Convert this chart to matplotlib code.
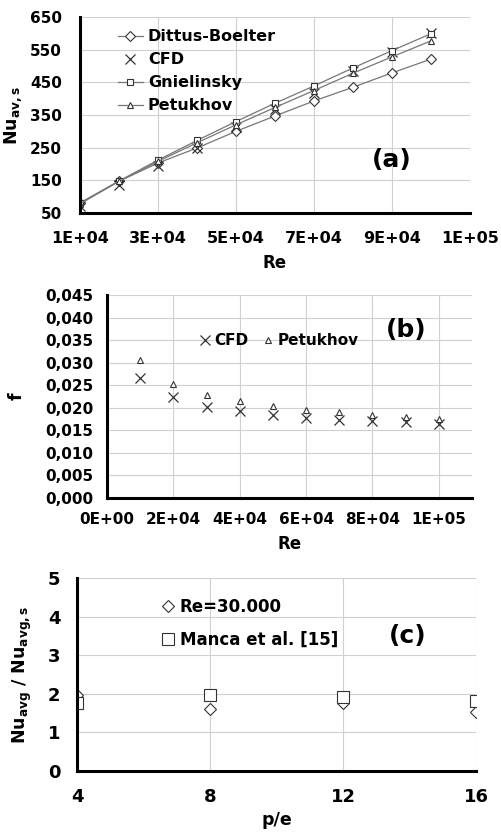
import matplotlib
matplotlib.use("Agg")
import matplotlib.pyplot as plt
from matplotlib.ticker import FuncFormatter, MultipleLocator

plt.rcParams['font.family'] = ['DejaVu Sans']
plt.rcParams['font.weight'] = 'bold'
plt.rcParams['mathtext.default'] = 'bf'

# ---- data ----
re_a = [10000, 20000, 30000, 40000, 50000, 60000, 70000, 80000, 90000, 100000]
nu_dittus = [80, 147, 203, 249, 300, 347, 393, 435, 479, 521]
nu_cfd = [72, 137, 194, 250, 313, 368, 418, 484, 544, 600]
nu_gniel = [81, 148, 212, 272, 330, 386, 439, 494, 547, 599]
nu_petuk = [78, 147, 208, 265, 320, 373, 425, 478, 528, 577]
xticks_a = [10000, 30000, 50000, 70000, 90000, 110000]
yticks_a = [50, 150, 250, 350, 450, 550, 650]

re_b = [10000, 20000, 30000, 40000, 50000, 60000, 70000, 80000, 90000, 100000]
f_cfd = [0.0267, 0.0223, 0.0201, 0.0192, 0.0184, 0.0177, 0.0172, 0.0170, 0.0168, 0.0165]
f_petuk = [0.0305, 0.0253, 0.0229, 0.0215, 0.0204, 0.0195, 0.0190, 0.0184, 0.0179, 0.0176]

pe = [4, 8, 12, 16]
ratio_re30000 = [1.98, 1.60, 1.75, 1.53]
ratio_manca = [1.77, 1.98, 1.92, 1.82]

W, H = 502, 832
fig = plt.figure(figsize=(W / 100, H / 100), dpi=100)

def box(l, r, t, b):
    return [l / W, (H - b) / H, (r - l) / W, (b - t) / H]

def style(ax, size=11, xpad=10, ypad=12, ysize=None):
    ax.grid(True, color='#d0d0d0', linewidth=0.8)
    ax.set_axisbelow(True)
    for s in ['top', 'right']:
        ax.spines[s].set_visible(False)
    for s in ['left', 'bottom']:
        ax.spines[s].set_linewidth(2.2)
        ax.spines[s].set_color('black')
    ax.tick_params(length=0, labelsize=size)
    ax.tick_params(axis='x', pad=xpad)
    ax.tick_params(axis='y', pad=ypad, labelsize=ysize or size)
    for lab in ax.get_xticklabels() + ax.get_yticklabels():
        lab.set_fontweight('bold')

sci = FuncFormatter(lambda v, p: '{:.0E}'.format(v))

# ---- (a) ----
ax1 = fig.add_axes(box(80, 470, 17, 213))
lc = '#777777'
ax1.plot(re_a, nu_dittus, color=lc, lw=0.9, marker='D', ms=5, mfc='white', mec='#333333', mew=0.8, label='Dittus-Boelter')
ax1.plot(re_a, nu_cfd, ls='none', marker='x', ms=7, color='#333333', mew=0.9, label='CFD')
ax1.plot(re_a, nu_gniel, color=lc, lw=0.9, marker='s', ms=5, mfc='white', mec='#333333', mew=0.8, label='Gnielinsky')
ax1.plot(re_a, nu_petuk, color=lc, lw=0.9, marker='^', ms=5, mfc='white', mec='#333333', mew=0.8, label='Petukhov')
ax1.set_xlim(10000, 110000)
ax1.set_ylim(50, 650)
ax1.set_xticks(xticks_a)
ax1.set_yticks(yticks_a)
ax1.xaxis.set_major_formatter(sci)
style(ax1, size=11.5, xpad=13, ypad=13, ysize=11)
ax1.set_xlabel('Re', fontsize=12, fontweight='bold', labelpad=6)
ax1.set_ylabel('Nu$_{av,s}$', fontsize=12.5, fontweight='bold', labelpad=4)
ax1.legend(loc='upper left', bbox_to_anchor=(0.08, 0.97), frameon=False, fontsize=11.5,
           handlelength=1.6, handletextpad=0.3, labelspacing=0.5, borderaxespad=0)
ax1.text(0.80, 0.27, '(a)', transform=ax1.transAxes, fontsize=18, fontweight='bold', ha='center', va='center')

# ---- (b) ----
ax2 = fig.add_axes(box(107, 472, 295, 498))
ax2.plot(re_b, f_cfd, ls='none', marker='x', ms=7, color='#333333', mew=0.9, label='CFD')
ax2.plot(re_b, f_petuk, ls='none', marker='^', ms=4, mfc='white', mec='#333333', mew=0.8, label='Petukhov')
ax2.set_xlim(0, 110000)
ax2.set_ylim(0, 0.045)
ax2.xaxis.set_major_locator(MultipleLocator(20000))
ax2.yaxis.set_major_locator(MultipleLocator(0.005))
ax2.xaxis.set_major_formatter(sci)
ax2.yaxis.set_major_formatter(FuncFormatter(lambda v, p: '{:.3f}'.format(v).replace('.', ',')))
style(ax2, size=11, xpad=10, ypad=10)
ax2.set_xlabel('Re', fontsize=12, fontweight='bold', labelpad=6)
ax2.set_ylabel('f', fontsize=12.5, fontweight='bold', labelpad=14)
ax2.legend(loc='center left', bbox_to_anchor=(0.235, 0.775), ncol=2, frameon=False, fontsize=11,
           handlelength=0.8, handletextpad=0.2, columnspacing=0.9, borderaxespad=0)
ax2.text(0.82, 0.83, '(b)', transform=ax2.transAxes, fontsize=18, fontweight='bold', ha='center', va='center')

# ---- (c) ----
ax3 = fig.add_axes(box(77, 476, 578, 771))
ax3.plot(pe, ratio_re30000, ls='none', marker='D', ms=6, mfc='white', mec='#333333', mew=0.8, label='Re=30.000')
ax3.plot(pe, ratio_manca, ls='none', marker='s', ms=8, mfc='white', mec='#333333', mew=0.8, label='Manca et al. [15]')
ax3.set_xlim(4, 16)
ax3.set_ylim(0, 5)
ax3.xaxis.set_major_locator(MultipleLocator(4))
ax3.yaxis.set_major_locator(MultipleLocator(1))
style(ax3, size=13, xpad=12, ypad=12)
ax3.set_xlabel('p/e', fontsize=12.5, fontweight='bold', labelpad=4)
ax3.set_ylabel('Nu$_{avg}$ / Nu$_{avg,s}$', fontsize=12.5, fontweight='bold', labelpad=10)
ax3.legend(loc='upper left', bbox_to_anchor=(0.195, 0.93), frameon=False, fontsize=12,
           handlelength=0.8, handletextpad=0.3, labelspacing=0.9, borderaxespad=0)
ax3.text(0.83, 0.70, '(c)', transform=ax3.transAxes, fontsize=18, fontweight='bold', ha='center', va='center')

fig.savefig('out.png', dpi=100)
